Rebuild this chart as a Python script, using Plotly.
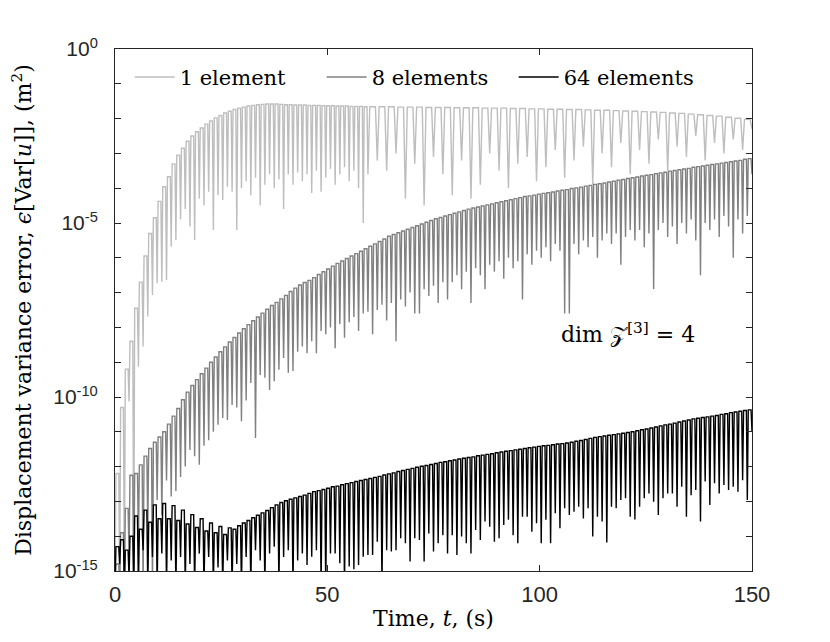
import plotly.graph_objects as go

# oscillation period (s) read from the spacing of the arches
period = 150 / 136

# ---- 64 elements (black): log10 of arch tops and of cusp dips ----
black_peak = [
    -14.3, -14.1, -14.4, -14.0, -13.42, -13.8, -13.25, -13.6, -13.1, -13.5,
    -13.06, -13.5, -13.12, -13.55, -13.25, -13.65, -13.38, -13.75, -13.5, -13.85,
    -13.62, -13.9, -13.72, -13.95, -13.76, -13.8, -13.7, -13.62, -13.55, -13.47,
    -13.4, -13.33, -13.26, -13.18, -13.1, -13.03, -12.98, -12.94, -12.9, -12.86,
    -12.82, -12.77, -12.72, -12.69, -12.66, -12.62, -12.58, -12.56, -12.52, -12.49,
    -12.46, -12.43, -12.4, -12.37, -12.34, -12.31, -12.28, -12.24, -12.21, -12.18,
    -12.14, -12.11, -12.08, -12.05, -12.02, -11.99, -11.97, -11.94, -11.91, -11.88,
    -11.86, -11.83, -11.81, -11.78, -11.76, -11.74, -11.72, -11.69, -11.67, -11.65,
    -11.63, -11.6, -11.58, -11.56, -11.54, -11.52, -11.5, -11.48, -11.46, -11.44,
    -11.42, -11.4, -11.39, -11.37, -11.35, -11.34, -11.32, -11.3, -11.27, -11.25,
    -11.22, -11.19, -11.16, -11.14, -11.12, -11.1, -11.08, -11.06, -11.04, -11.02,
    -11.0, -10.97, -10.94, -10.92, -10.89, -10.86, -10.83, -10.8, -10.78, -10.75,
    -10.72, -10.69, -10.66, -10.63, -10.61, -10.59, -10.57, -10.55, -10.53, -10.5,
    -10.48, -10.45, -10.43, -10.41, -10.39, -10.37,
]
black_dip = [
    -15.5, -14.8, -15.5, -15.2, -15.5,
    -15.5, -14.4, -15.5, -14.6, -15.5, -14.5, -15.5, -14.7, -15.5, -14.6,
    -15.5, -14.8, -15.5, -14.5, -15.5, -14.6, -15.5, -14.9, -15.5, -14.7,
    -15.5, -14.8, -15.5,
    -14.6, -15.5, -14.4, -14.7, -15.5, -14.5, -14.3, -15.5, -14.6, -14.4,
    -15.5, -14.7, -14.5,
    -14.83, -14.59, -14.4, -15.5, -15.5, -14.5, -14.5, -14.78, -15.5, -14.87,
    -14.95, -14.83, -14.59, -14.54, -14.54, -14.16, -15.5, -14.4, -14.44, -14.4,
    -14.06, -14.2, -14.73, -14.06, -14.11, -14.73, -13.92, -14.44, -14.2, -13.97,
    -14.5, -13.97, -14.54, -14.01, -14.2, -14.5, -13.82, -14.11, -13.58, -13.73,
    -14.16, -14.06, -13.68, -13.53, -13.97, -14.2, -13.44, -13.44, -13.87, -13.63,
    -14.2, -13.53,
    -14.2, -13.34, -13.77, -13.2, -13.39, -13.3, -13.15, -13.49, -13.2, -14.01,
    -13.44, -13.58, -14.18, -13.15, -13.2, -12.96, -12.91, -13.44, -13.52, -13.15,
    -12.91, -12.77, -13.01, -13.39, -12.91, -12.77, -12.77, -13.15, -12.58, -13.44,
    -12.82, -12.67, -13.58, -12.43, -13.1, -12.48, -12.77, -12.53, -12.67, -12.58,
    -12.72, -12.39, -12.96, -11.0,
]

# ---- 8 elements (dark grey) ----
dark_peak = [
    -14.8, -13.9, -13.2, -12.25, -12.2, -11.95, -11.7, -11.48, -11.3, -11.15,
    -11.0, -10.78, -10.55, -10.33, -10.08, -9.86, -9.67, -9.5, -9.33, -9.17,
    -9.0, -8.85, -8.7, -8.56, -8.42, -8.29, -8.16, -8.04, -7.92, -7.81,
    -7.7, -7.59, -7.48, -7.37, -7.28, -7.18, -7.08, -6.97, -6.87, -6.78,
    -6.71, -6.65, -6.57, -6.48, -6.4, -6.32, -6.24, -6.16, -6.09, -6.02,
    -5.95, -5.88, -5.81, -5.74, -5.67, -5.6, -5.53, -5.46, -5.38, -5.33,
    -5.28, -5.23, -5.18, -5.13, -5.08, -5.03, -4.98, -4.93, -4.88, -4.84,
    -4.8, -4.76, -4.72, -4.68, -4.64, -4.6, -4.57, -4.54, -4.51, -4.48,
    -4.45, -4.42, -4.39, -4.36, -4.33, -4.3, -4.27, -4.24, -4.22, -4.2,
    -4.17, -4.15, -4.13, -4.11, -4.08, -4.06, -4.04, -4.01, -3.99, -3.97,
    -3.94, -3.92, -3.89, -3.87, -3.85, -3.82, -3.8, -3.77, -3.75, -3.72,
    -3.7, -3.68, -3.65, -3.63, -3.61, -3.58, -3.56, -3.54, -3.51, -3.49,
    -3.47, -3.45, -3.43, -3.4, -3.38, -3.36, -3.34, -3.32, -3.3, -3.28,
    -3.26, -3.24, -3.22, -3.2, -3.17, -3.15,
]
dark_dip = [
    -15.5, -15.5, -15.5, -14.6, -15.5, -14.2, -15.5, -13.8, -15.5, -12.96,
    -13.4, -12.4, -12.86, -12.7, -12.3, -12.0, -11.52, -11.7, -11.95, -11.4,
    -11.24, -11.0, -10.8, -10.6, -10.66, -10.23, -10.3, -10.7, -10.1, -9.6,
    -11.18, -9.37, -9.45, -9.8, -9.55, -9.22, -8.88, -9.3, -9.25, -8.7,
    -8.55, -8.74, -8.4, -8.74, -8.1, -8.2, -8.0, -8.6, -7.9, -8.3,
    -7.85, -7.7, -8.1, -7.6, -7.55, -8.2, -7.5, -7.35, -7.8, -7.3,
    -8.4, -7.2, -7.4, -7.0, -7.6, -7.6, -6.9, -7.1, -6.8, -7.3,
    -6.7, -7.2, -6.7, -6.5, -6.9, -6.4, -7.3, -6.3, -6.5, -6.9,
    -6.2, -6.4, -6.1, -6.6, -6.0, -6.3, -6.1, -7.2, -5.9, -6.2,
    -5.8, -6.0, -5.7, -6.1, -5.6, -5.8, -7.6, -7.6, -5.6, -5.9,
    -5.5, -5.7, -5.4, -6.0, -5.5, -5.3, -5.6, -5.3, -6.2, -5.4,
    -5.2, -5.5, -5.2, -5.7, -5.3, -6.9, -5.2, -5.0, -5.4, -5.1,
    -5.6, -5.0, -5.3, -4.9, -5.5, -6.5, -5.0, -5.2, -4.9, -5.4,
    -4.8, -5.1, -6.0, -4.9, -5.3, -4.8, -3.6,
]

# ---- 1 element (light grey): fast arches up to ~60 s, then twice as wide ----
light_peak_early = [
    -12.2, -10.3, -9.2, -8.4, -7.45, -6.7, -5.95, -5.3, -4.85, -4.38,
    -3.96, -3.67, -3.3, -3.05, -2.85, -2.65, -2.5, -2.38, -2.27, -2.16,
    -2.07, -1.98, -1.91, -1.84, -1.79, -1.74, -1.7, -1.67, -1.64, -1.62,
    -1.6, -1.59, -1.58, -1.58, -1.58, -1.59, -1.6, -1.6, -1.61, -1.61,
    -1.61, -1.62, -1.62, -1.62, -1.63, -1.63, -1.63, -1.64, -1.64, -1.64,
    -1.65, -1.65, -1.65, -1.66,
]
light_dip_early = [
    -15.5, -15.5, -15.5, -10.13, -15.5, -9.13, -8.55, -7.69, -7.07, -6.73,
    -6.69, -6.64, -5.68, -5.49, -4.9, -4.6, -5.1, -5.49, -4.3, -4.5,
    -4.1, -5.2, -4.2, -4.34, -3.96, -4.1, -5.2, -4.0, -3.8, -4.2,
    -3.7, -4.5, -3.9, -3.6, -4.0, -3.75, -4.6, -3.6, -3.9, -3.55,
    -3.8, -3.6, -4.14, -3.5, -4.1, -3.7, -3.45, -3.9, -3.6, -3.4,
    -3.8, -3.5, -4.0, -5.0, -3.6,
]
light_peak_late = [
    -1.66, -1.66, -1.66, -1.67, -1.67, -1.67, -1.68, -1.68, -1.68, -1.69,
    -1.69, -1.69, -1.7, -1.7, -1.7, -1.71, -1.71, -1.72, -1.72, -1.73,
    -1.73, -1.74, -1.74, -1.75, -1.76, -1.76, -1.77, -1.78, -1.79, -1.8,
    -1.81, -1.82, -1.84, -1.85, -1.87, -1.89, -1.91, -1.93, -1.96, -1.99,
    -2.02,
]
light_dip_late = [
    -3.2, -3.5, -3.0, -4.3, -3.3, -4.5, -3.1, -3.6, -4.2, -3.2,
    -4.3, -3.9, -3.0, -3.5, -4.0, -3.3, -3.1, -3.8, -3.4, -2.9,
    -3.7, -3.2, -2.8, -3.9, -3.0, -3.4, -2.7, -3.6, -2.9, -3.3,
    -2.6, -3.5, -2.8, -3.1, -2.5, -3.2, -2.7, -3.0, -2.6, -2.9,
    -2.3,
]

y_tick_exp = list(range(0, -16, -1))
x_ticks = [0, 50, 100, 150]


def arches(t0, step, peaks, dips):
    """cusp at each dip, flat-topped arch at each peak (values are log10)"""
    x, y = [], []
    for i, pk in enumerate(peaks):
        tc = t0 + i * step
        x += [tc, tc + 0.2 * step, tc + 0.8 * step]
        y += [10 ** dips[i], 10 ** pk, 10 ** pk]
    x.append(t0 + len(peaks) * step)
    y.append(10 ** dips[len(peaks)])
    return x, y


lx1, ly1 = arches(0, period, light_peak_early, light_dip_early)
t_switch = len(light_peak_early) * period
lx2, ly2 = arches(t_switch, 2 * period, light_peak_late, [light_dip_early[-1]] + light_dip_late)
light_x, light_y = lx1 + lx2[1:], ly1 + ly2[1:]
dark_x, dark_y = arches(0, period, dark_peak, dark_dip)
black_x, black_y = arches(0, period, black_peak, black_dip)

serif = "DejaVu Serif"
axis_col = "#262626"

fig = go.Figure()
fig.add_scatter(x=light_x, y=light_y, mode="lines", name="1 element",
                line={"color": "rgb(190,190,190)", "width": 1.4})
fig.add_scatter(x=dark_x, y=dark_y, mode="lines", name="8 elements",
                line={"color": "rgb(128,128,128)", "width": 1.4})
fig.add_scatter(x=black_x, y=black_y, mode="lines", name="64 elements",
                line={"color": "black", "width": 1.4})

fig.add_annotation(x=0.806, y=0.456, xref="paper", yref="paper",
                   xanchor="center", yanchor="middle",
                   text="dim \U0001D4B5<sup>[3]</sup> = 4", showarrow=False,
                   font={"family": serif, "size": 22, "color": "black"})

# page body has an 8px margin, so the margins are shifted to keep the plot box in place
fig.update_layout(
    width=830, height=642,
    margin={"l": 100, "r": 86, "t": 41, "b": 79},
    paper_bgcolor="white", plot_bgcolor="white",
    showlegend=True,
    legend={"orientation": "h", "x": 0.023, "y": 0.985, "xanchor": "left", "yanchor": "top",
            "bgcolor": "rgba(0,0,0,0)", "entrywidth": 137, "itemwidth": 40},
    legend_font={"family": serif, "size": 21, "color": "black"},
)
fig.update_xaxes(
    range=[0, 150], tickvals=x_ticks, ticks="inside", ticklen=6, tickcolor=axis_col,
    showline=True, linecolor=axis_col, linewidth=1, mirror="ticks", showgrid=False, zeroline=False,
    tickfont={"family": "Liberation Sans", "size": 22, "color": axis_col}, ticklabelstandoff=4,
    title={"text": "Time, <i>t</i>, (s)", "font": {"family": serif, "size": 22, "color": "black"},
           "standoff": 4},
)
fig.update_yaxes(
    type="log", range=[-15, 0],
    tickvals=[10 ** e for e in y_tick_exp],
    ticktext=[f"10<sup>{e}</sup>" if e % 5 == 0 else "" for e in y_tick_exp],
    ticks="inside", ticklen=6, tickcolor=axis_col,
    showline=True, linecolor=axis_col, linewidth=1, mirror="ticks", showgrid=False, zeroline=False,
    tickfont={"family": "Liberation Sans", "size": 21, "color": axis_col}, ticklabelstandoff=12,
    title={"text": "Displacement variance error, <i>\u03f5</i>[Var[<i>u</i>]], (m<sup>2</sup>)",
           "font": {"family": serif, "size": 22, "color": "black"}, "standoff": 18},
)

fig.write_html("out.html")
